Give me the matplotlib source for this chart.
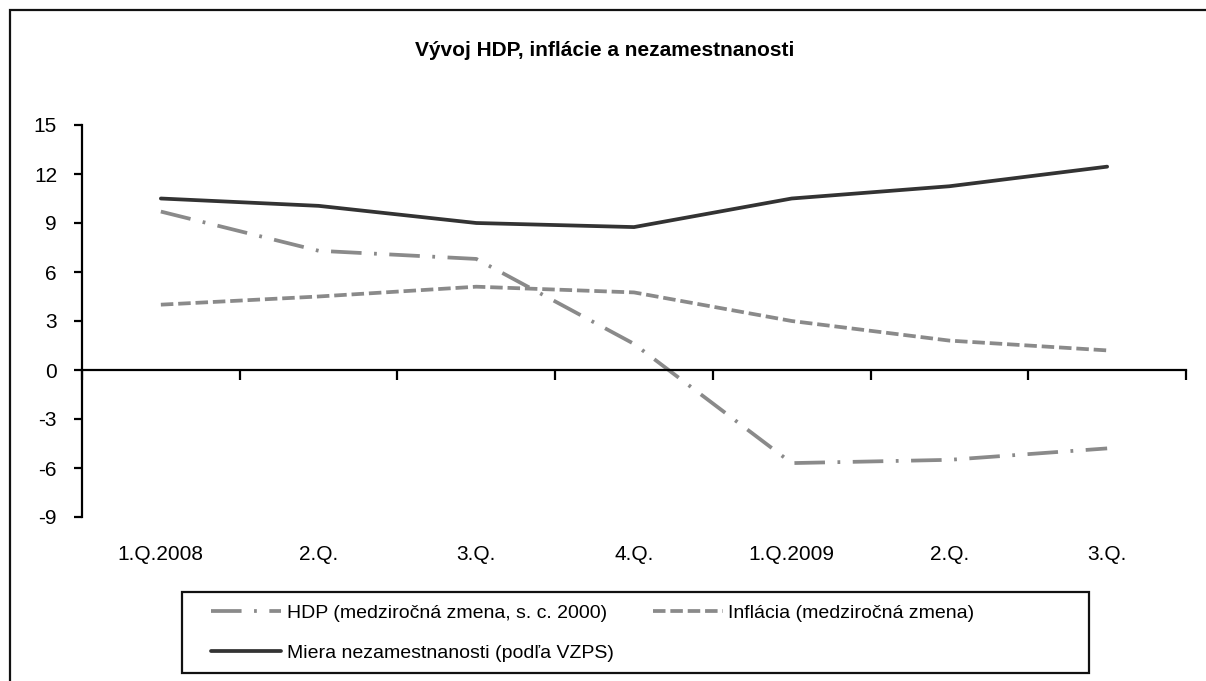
import matplotlib
matplotlib.use("Agg")
import matplotlib.pyplot as plt
from matplotlib.patches import Rectangle
from matplotlib import font_manager
import matplotlib.transforms as mtransforms

categories = ["1.Q.2008", "2.Q.", "3.Q.", "4.Q.", "1.Q.2009", "2.Q.", "3.Q."]
hdp = [9.7, 7.3, 6.8, 1.6, -5.7, -5.5, -4.8]
inflacia = [4.0, 4.5, 5.1, 4.75, 3.0, 1.8, 1.2]
nezamestnanost = [10.5, 10.05, 9.0, 8.75, 10.5, 11.25, 12.45]
yticks = [-9, -6, -3, 0, 3, 6, 9, 12, 15]

names = {f.name for f in font_manager.fontManager.ttflist}
base = "Liberation Sans" if "Liberation Sans" in names else "DejaVu Sans"
plt.rcParams['font.family'] = [base, 'DejaVu Sans']
plt.rcParams['lines.scale_dashes'] = False

W, H = 1206, 681
fig = plt.figure(figsize=(W / 100, H / 100), dpi=100)
fig.patch.set_facecolor("white")

# outer border
fig.patches.append(Rectangle((10 / W, -0.2), 1.2, 1 - 10 / H + 0.2, transform=fig.transFigure,
                             fill=False, edgecolor="#111111", linewidth=1.6, zorder=0))

left, right, top, bottom = 82 / W, 1186 / W, 1 - 125 / H, 1 - 517 / H
ax = fig.add_axes([left, bottom, right - left, top - bottom])
ax.set_facecolor("none")

x = list(range(len(categories)))
gray = "#8a8a8a"
lw = 2.7
l_hdp, = ax.plot(x, hdp, color=gray, linewidth=lw, dashes=(22, 9, 2, 9),
                 label="HDP (medziročná zmena, s. c. 2000)")
l_inf, = ax.plot(x, inflacia, color=gray, linewidth=lw, dashes=(9, 3.5),
                 label="Inflácia (medziročná zmena)")
l_nez, = ax.plot(x, nezamestnanost, color="#333333", linewidth=lw,
                 label="Miera nezamestnanosti (podľa VZPS)", solid_capstyle="round")

ax.set_xlim(-0.5, len(categories) - 0.5)
ax.set_ylim(-9, 15)
ax.set_yticks(yticks)
ax.set_yticklabels([str(v) for v in yticks])

for s in ["top", "right"]:
    ax.spines[s].set_visible(False)
ax.spines["left"].set_linewidth(1.6)
ax.spines["bottom"].set_position(("data", 0))
ax.spines["bottom"].set_linewidth(1.6)

ax.tick_params(axis="y", direction="out", length=6, width=1.6, pad=12,
               labelsize=15, colors="black")
ax.set_xticks([i - 0.5 for i in range(len(categories) + 1)])
ax.set_xticklabels([])
ax.tick_params(axis="x", which="major", direction="out", length=7, width=1.6)

trans = mtransforms.blended_transform_factory(ax.transData, fig.transFigure)
for i, c in enumerate(categories):
    ax.text(i, 1 - 555 / H, c, transform=trans, ha="center", va="center", fontsize=15)

fig.text(605 / W, 1 - 50 / H, "Vývoj HDP, inflácie a nezamestnanosti", ha="center",
         va="center", fontsize=15, fontweight="bold")

# legend frame
fig.patches.append(Rectangle((182 / W, 1 - 673 / H), (1089 - 182) / W, (673 - 592) / H,
                             transform=fig.transFigure, fill=False, edgecolor="#111111",
                             linewidth=1.6, zorder=1))
leg = fig.legend(handles=[l_hdp, l_nez, l_inf], ncol=2, frameon=False,
                 loc="upper left", bbox_to_anchor=(211 / W, 1 - 604 / H),
                 bbox_transform=fig.transFigure, borderaxespad=0, borderpad=0,
                 prop={"size": 14}, handlelength=3.6, handletextpad=0.3,
                 labelspacing=1.15, columnspacing=2.0)

fig.savefig("out.png", dpi=100, facecolor="white")
